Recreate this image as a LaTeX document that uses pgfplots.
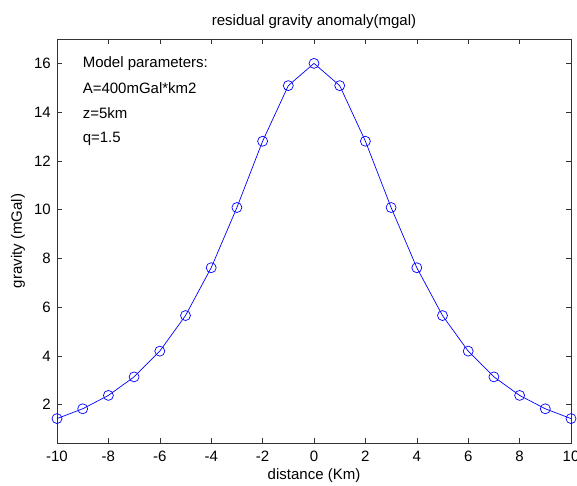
\documentclass[border=0pt]{standalone}
\usepackage{fontspec}
\setmainfont{Liberation Sans}
\usepackage{pgfplots}
\pgfplotsset{compat=1.18}

\begin{document}
\fontsize{15}{18}\selectfont
\begin{tikzpicture}
\begin{axis}[
  name=ax,
  scale only axis,
  width=514pt, height=404pt,
  xmin=-10, xmax=10,
  ymin=0.43, ymax=17,
  xtick={-10,-8,...,10},
  ytick={2,4,...,16},
  tick align=inside,
  major tick length=5pt,
  tick style={black!80, line width=0.6pt},
  axis line style={black!80, line width=0.6pt},
  /pgf/number format/assume math mode=true,
  ticklabel style={font=\fontsize{15}{18}\selectfont},
  xticklabel style={yshift=-3pt},
  yticklabel style={xshift=-1pt},
  title={residual gravity anomaly(mgal)},
  title style={font=\fontsize{15}{18}\selectfont, yshift=-1pt},
  xlabel={distance (Km)},
  ylabel={gravity (mGal)},
  xlabel style={font=\fontsize{15}{18}\selectfont, yshift=3pt},
  ylabel style={font=\fontsize{15}{18}\selectfont, yshift=-1pt},
  clip=false,
]
  \addplot[blue, line width=0.7pt, mark=o, mark size=5pt, mark options={solid, line width=0.7pt}]
    coordinates {
      (-10,1.431) (-9,1.833) (-8,2.382) (-7,3.142) (-6,4.198) (-5,5.657)
      (-4,7.619) (-3,10.088) (-2,12.807) (-1,15.087) (0,16.000)
      (1,15.087) (2,12.807) (3,10.088) (4,7.619) (5,5.657) (6,4.198)
      (7,3.142) (8,2.382) (9,1.833) (10,1.431)
    };
  \node[anchor=west] at (axis cs:-9.2,16) {Model parameters:};
  \node[anchor=west] at (axis cs:-9.2,14.97) {A=400mGal*km2};
  \node[anchor=west] at (axis cs:-9.2,13.94) {z=5km};
  \node[anchor=west] at (axis cs:-9.2,12.91) {q=1.5};
  \coordinate (bl) at (rel axis cs:0,0);
  \coordinate (tr) at (rel axis cs:1,1);
\end{axis}
\pgfresetboundingbox
\path[use as bounding box] ([shift={(-57pt,-42pt)}]bl) rectangle ([shift={(6pt,39pt)}]tr);
\end{tikzpicture}
\end{document}
